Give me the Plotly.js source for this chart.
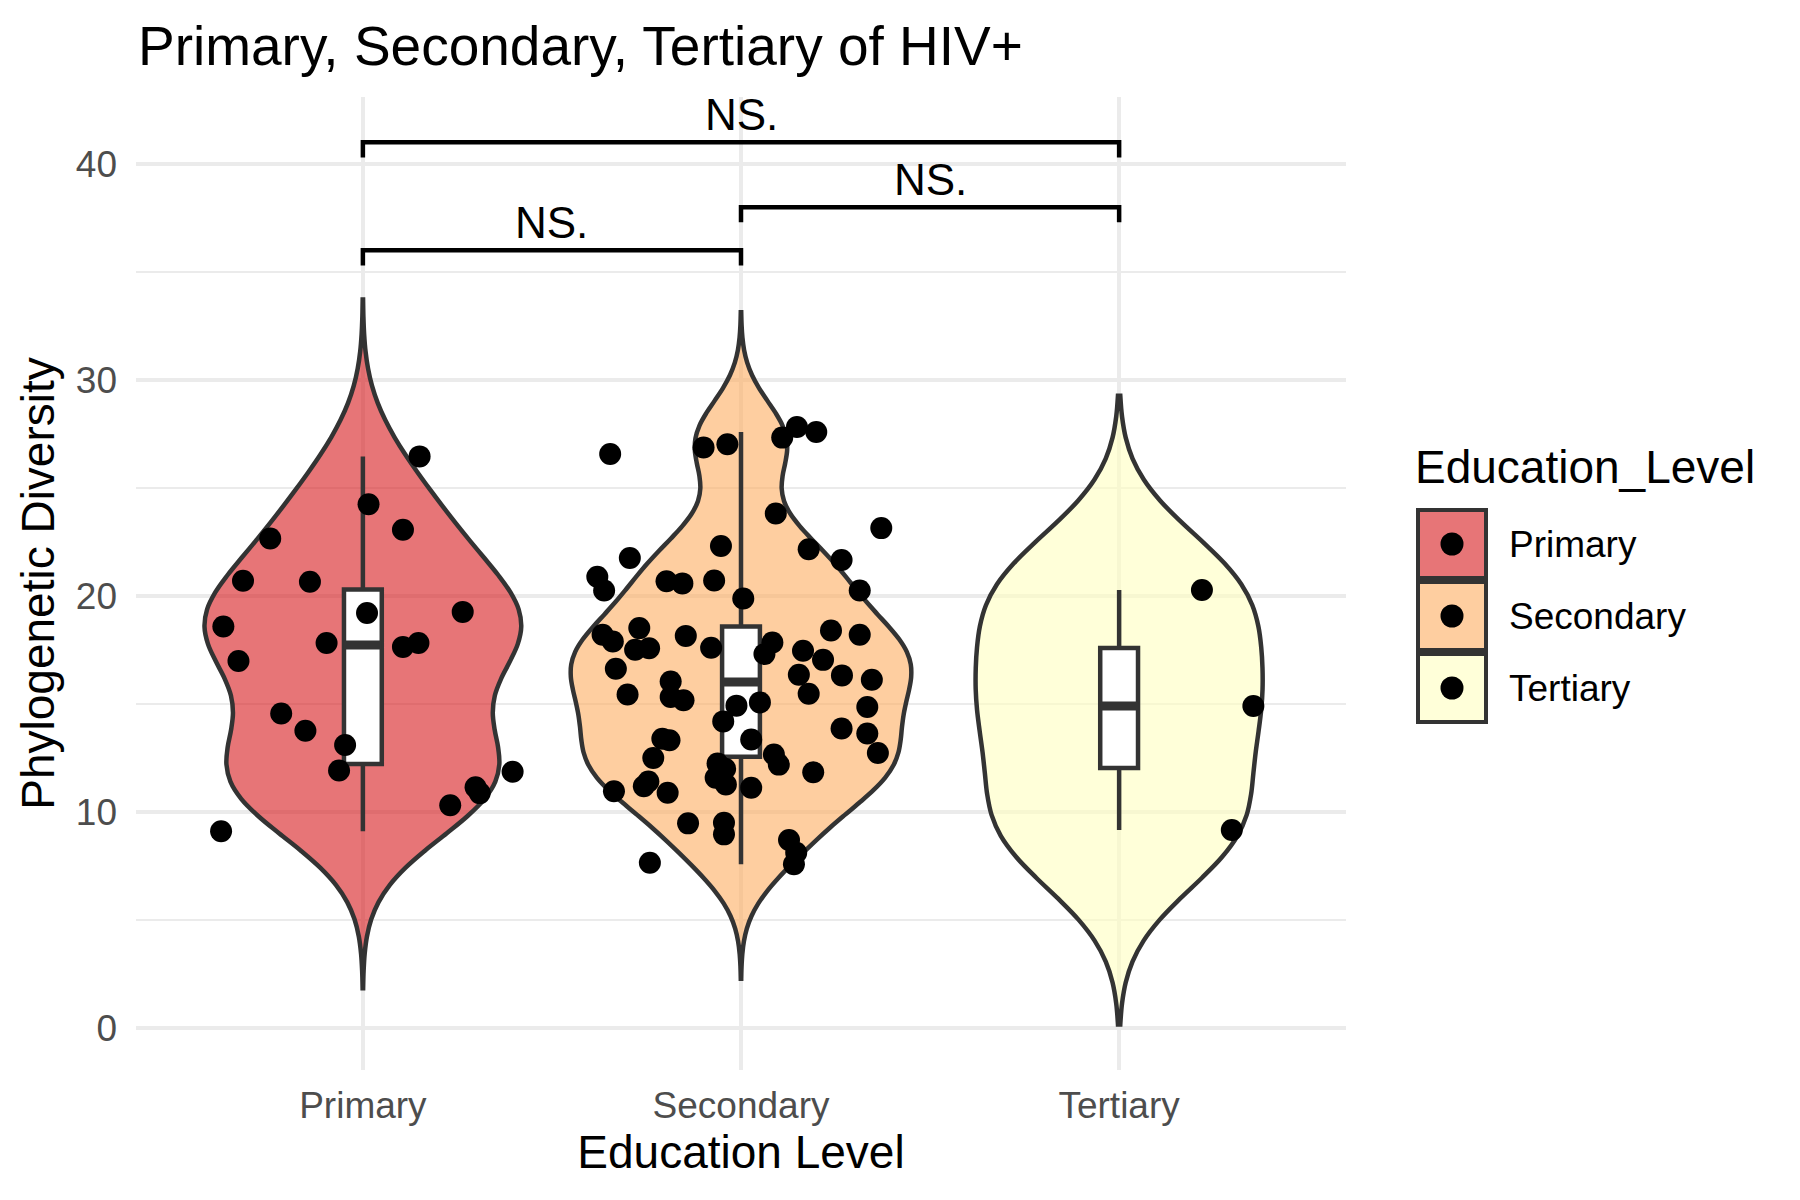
<!DOCTYPE html>
<html><head><meta charset="utf-8">
<script src="https://cdn.plot.ly/plotly-3.0.1.min.js"></script>
<style>html,body{margin:0;padding:0;background:#fff}</style>
</head><body><div id="chart" style="width:1800px;height:1200px"></div>
<script>
// ---------- data ----------
const categories = ['Primary', 'Secondary', 'Tertiary'];
const legendTitle = 'Education_Level';

const primaryValues = [26.46, 24.24, 23.06, 22.66, 20.70, 20.66, 19.26, 19.21, 18.58, 17.82, 17.64, 17.82, 16.99, 14.56, 13.76, 13.10, 11.92, 11.86, 11.14, 10.87, 10.31, 9.10];
const primaryJitter = [0.150, 0.015, 0.106, -0.245, -0.317, -0.140, 0.264, 0.011, -0.369, -0.096, 0.106, 0.147, -0.329, -0.216, -0.152, -0.047, -0.063, 0.396, 0.298, 0.309, 0.231, -0.375];

const secondaryValues = [26.57, 26.87, 27.02, 27.33, 27.82, 27.59, 23.82, 23.14, 22.31, 22.16, 21.76, 21.66, 20.89, 20.25, 20.68, 20.58, 20.71, 20.25, 19.88,
  18.20, 17.89, 18.51, 18.15, 17.60, 16.63, 15.44, 16.04, 15.32, 15.17, 17.84, 17.31, 17.46, 17.04, 18.40, 18.20,
  16.35, 15.47, 16.32, 16.12, 14.86, 13.63, 13.86, 12.73, 14.92, 15.07, 14.19, 13.35, 13.39, 13.32, 12.50, 11.41, 11.19, 10.89, 10.96,
  12.24, 11.58, 11.27, 12.00, 11.12, 12.66, 12.19, 11.84, 9.47, 9.50, 8.96, 8.70, 8.11, 7.58, 7.65, 17.51, 17.58];
const secondaryJitter = [-0.346, -0.099, -0.036, 0.109, 0.148, 0.199, 0.092, 0.371, -0.053, 0.179, -0.294, 0.266, -0.380, -0.362, -0.197, -0.155, -0.071, 0.314, 0.006,
  -0.366, -0.339, -0.269, -0.146, -0.079, -0.331, -0.300, -0.186, -0.186, -0.152, 0.083, 0.062, 0.164, 0.217, 0.238, 0.314,
  0.153, 0.179, 0.267, 0.346, 0.334, 0.334, 0.266, 0.362, -0.012, 0.050, -0.047, 0.027, -0.208, -0.189, -0.232, -0.245, -0.257, -0.194, -0.336,
  -0.062, -0.067, -0.040, -0.042, 0.027, 0.087, 0.100, 0.191, -0.140, -0.045, -0.045, 0.127, 0.146, 0.140, -0.241, -0.280, -0.243];

const tertiaryValues = [9.16, 14.90, 20.27];
const tertiaryJitter = [0.298, 0.355, 0.219];

// box summaries
const boxQ1 = [12.22, 12.55, 12.03];
const boxMedian = [17.73, 16.01, 14.90];
const boxQ3 = [20.30, 18.58, 17.59];
const boxLowerFence = [9.10, 7.58, 9.16];
const boxUpperFence = [26.46, 27.59, 20.27];

// kernel bandwidths
const kdeBandwidth = [2.42, 1.77, 3.0];

// significance comparisons
const comparisonStart = [0, 1, 0];
const comparisonEnd = [1, 2, 2];
const comparisonY = [36, 38, 41];
const comparisonLabel = ['NS.', 'NS.', 'NS.'];

// ---------- style ----------
const fillColors = ['#D7191C', '#FDAE61', '#FFFFBF'];
const FILL_ALPHA = 0.6;
const OUTLINE = '#333333';
const FONT = 'Liberation Sans, Arial, sans-serif';
const BOX_W = 0.1;
const TIP = 0.7;

function rgba(hex, a) {
  const n = parseInt(hex.slice(1), 16);
  return `rgba(${(n >> 16) & 255},${(n >> 8) & 255},${n & 255},${a})`;
}

const groupValues = [primaryValues, secondaryValues, tertiaryValues];
const groupJitter = [primaryJitter, secondaryJitter, tertiaryJitter];

const traces = [];
// violins
groupValues.forEach((vals, i) => {
  const bw = kdeBandwidth[i];
  const lo = Math.min(...vals) - 3 * bw, hi = Math.max(...vals) + 3 * bw;
  traces.push({
    type: 'violin', x0: i, y: vals, name: categories[i],
    fillcolor: rgba(fillColors[i], FILL_ALPHA),
    line: {color: OUTLINE, width: 4.5},
    points: false, box: {visible: false}, meanline: {visible: false},
    bandwidth: bw, spanmode: 'manual', span: [lo, hi],
    scalegroup: 'all', scalemode: 'width',
    showlegend: false, hoverinfo: 'skip'
  });
});
// boxes
categories.forEach((c, i) => {
  traces.push({
    type: 'box', x: [i], q1: [boxQ1[i]], median: [boxMedian[i]], q3: [boxQ3[i]],
    lowerfence: [boxLowerFence[i]], upperfence: [boxUpperFence[i]],
    width: BOX_W, fillcolor: '#FFFFFF', line: {color: OUTLINE, width: 4.5},
    whiskerwidth: 0, boxpoints: false, showlegend: false, hoverinfo: 'skip'
  });
});
// thick median bars
categories.forEach((c, i) => {
  traces.push({
    type: 'scatter', mode: 'lines',
    x: [i - BOX_W / 2, i + BOX_W / 2], y: [boxMedian[i], boxMedian[i]],
    line: {color: OUTLINE, width: 9}, showlegend: false, hoverinfo: 'skip'
  });
});
// jittered points
groupValues.forEach((vals, i) => {
  traces.push({
    type: 'scatter', mode: 'markers',
    x: vals.map((v, k) => i + groupJitter[i][k]), y: vals,
    marker: {color: '#000000', size: 22},
    showlegend: false, hoverinfo: 'skip'
  });
});
// significance brackets
const annotations = [];
comparisonY.forEach((yv, k) => {
  const s = comparisonStart[k], e = comparisonEnd[k];
  traces.push({
    type: 'scatter', mode: 'lines',
    x: [s, s, e, e], y: [yv - TIP, yv, yv, yv - TIP],
    line: {color: '#000000', width: 4.5}, showlegend: false, hoverinfo: 'skip'
  });
  annotations.push({
    x: (s + e) / 2, y: yv, xref: 'x', yref: 'y', text: comparisonLabel[k],
    showarrow: false, yanchor: 'bottom', yshift: 1, font: {family: FONT, size: 44, color: '#000000'}
  });
});

// ---------- custom legend (ggplot-style keys) ----------
const M = {l: 136, r: 454, t: 97, b: 130};
const W = 1800, H = 1200;
const px2x = px => (px - M.l) / (W - M.l - M.r);
const py2y = py => (H - M.b - py) / (H - M.t - M.b);
const KEY_L = 1418, KEY_S = 68, KEY_T0 = 510, KEY_STEP = 72, DOT_R = 11.5, TEXT_L = 1507;
const shapes = [];
categories.forEach((c, i) => {
  const top = KEY_T0 + i * KEY_STEP;
  const cx = KEY_L + KEY_S / 2, cy = top + KEY_S / 2;
  shapes.push({type: 'rect', xref: 'paper', yref: 'paper',
    x0: px2x(KEY_L), x1: px2x(KEY_L + KEY_S), y0: py2y(top + KEY_S), y1: py2y(top),
    fillcolor: rgba(fillColors[i], FILL_ALPHA), line: {color: OUTLINE, width: 4}});
  shapes.push({type: 'circle', xref: 'paper', yref: 'paper',
    x0: px2x(cx - DOT_R), x1: px2x(cx + DOT_R), y0: py2y(cy + DOT_R), y1: py2y(cy - DOT_R),
    fillcolor: '#000000', line: {width: 0}});
  annotations.push({xref: 'paper', yref: 'paper', x: px2x(TEXT_L), y: py2y(cy),
    xanchor: 'left', yanchor: 'middle', text: c, showarrow: false,
    font: {family: FONT, size: 37, color: '#000000'}});
});
annotations.push({xref: 'paper', yref: 'paper', x: px2x(KEY_L - 5), y: py2y(467),
  xanchor: 'left', yanchor: 'middle', text: legendTitle, showarrow: false,
  font: {family: FONT, size: 46, color: '#000000'}});

const layout = {
  width: W, height: H, margin: M,
  paper_bgcolor: '#FFFFFF', plot_bgcolor: '#FFFFFF',
  font: {family: FONT, color: '#000000'},
  title: {text: 'Primary, Secondary, Tertiary of HIV+', xref: 'container', x: 138 / W, xanchor: 'left',
    yref: 'container', y: 1 - 46 / H, yanchor: 'middle', font: {family: FONT, size: 55, color: '#000000'}},
  showlegend: false,
  violinmode: 'overlay', violingap: 0.1, violingroupgap: 0,
  boxmode: 'overlay', boxgap: 0, boxgroupgap: 0,
  xaxis: {type: 'linear', range: [-0.6, 2.6], tickmode: 'array',
    tickvals: categories.map((c, i) => i), ticktext: categories,
    showgrid: true, gridcolor: '#EBEBEB', gridwidth: 3.5, zeroline: false, showline: false,
    ticks: '', ticklabelstandoff: 10,
    tickfont: {family: FONT, size: 37, color: '#4D4D4D'},
    title: {text: 'Education Level', font: {family: FONT, size: 46, color: '#000000'}, standoff: 4}},
  yaxis: {type: 'linear', range: [-1.95, 43.1], tickmode: 'linear', tick0: 0, dtick: 10,
    showgrid: true, gridcolor: '#EBEBEB', gridwidth: 3.5, zeroline: false, showline: false,
    ticks: '', ticklabelstandoff: 18,
    minor: {tickmode: 'linear', tick0: 0, dtick: 5, showgrid: true, gridcolor: '#EBEBEB', gridwidth: 1.8, ticks: ''},
    tickfont: {family: FONT, size: 37, color: '#4D4D4D'},
    title: {text: 'Phylogenetic Diversity', font: {family: FONT, size: 46, color: '#000000'}, standoff: 6}},
  shapes: shapes,
  annotations: annotations
};

Plotly.newPlot('chart', traces, layout, {displayModeBar: false, staticPlot: true});
</script>
</body></html>
